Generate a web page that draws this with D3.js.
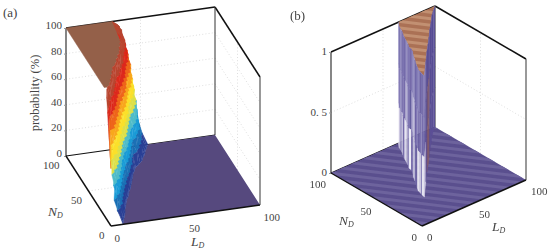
<!DOCTYPE html>
<html>
<head>
<meta charset="utf-8">
<script src="https://cdn.jsdelivr.net/npm/d3@7"></script>
<style>
  html, body { margin: 0; padding: 0; background: #fff; overflow: hidden; }
  text { font-family: "Liberation Serif", serif; fill: #444; }
</style>
</head>
<body>
<div id="chart"></div>
<script>
// ---- panel (a) values ----
const aTicksP = [0, 20, 40, 60, 80, 100];
const aTicksLN = [0, 50, 100];
const aGridP = [20, 40, 60, 80];
const aLevels = [100, 90, 80, 70, 60, 50, 40, 30, 20, 10, 0];
const aRowsN = [100, 97.5, 95, 92.5, 90, 87.5, 85, 82.5, 80, 77.5, 75, 72.5, 70, 67.5, 65, 62.5, 60, 57.5, 55, 52.5, 50, 47.5, 45, 42.5, 40, 37.5, 35, 32.5, 30, 27.5, 25, 22.5, 20, 17.5, 15, 12.5, 10, 7.5, 5, 2.5, 0];
// probability on the LD = 0 side of each row
const aEdgeP = [100, 100, 100, 100, 100, 100, 100, 100, 100, 100, 100, 100, 100, 100, 100, 100, 100, 100, 100, 100, 100, 100, 100, 100, 100, 100, 100, 100, 100, 100, 100, 100, 100, 100, 100, 98, 95, 85, 72, 60, 45];
// LD where each row crosses each level
const aCrossLD = [
  [31, 34.5, 38, 40, 42, 43, 45, 46.5, 48.5, 51, 55],
  [32, 35, 38, 39, 42, 43, 44, 47, 47.5, 50.5, 53.5],
  [33, 36.5, 37.5, 41, 41, 44, 43.5, 46, 47.5, 49, 52.5],
  [33.5, 35, 39, 39, 42, 41.5, 45, 44.5, 47, 47, 51],
  [33, 36.5, 37, 40.5, 40, 43, 42, 45, 44.5, 48, 50],
  [33.5, 34.5, 38, 38, 41, 40, 43.5, 42.5, 46, 45.5, 49],
  [32, 35.5, 35.5, 39, 38, 41, 40, 43.5, 42.5, 46, 47.5],
  [32, 33, 36.5, 36, 39, 38, 41, 40, 43, 42.5, 46],
  [30.5, 34, 34, 37, 35.5, 39, 37.5, 41, 40, 43.5, 45],
  [30.5, 31, 35, 33.5, 37, 35.5, 38.5, 38, 40.5, 41, 43],
  [28.5, 32, 31.5, 34.5, 33, 36, 35, 37.5, 36.5, 40, 41],
  [28.5, 29, 32.5, 31, 34, 32.5, 35, 34, 36.5, 36.5, 38.5],
  [27, 30, 29, 32, 30.5, 33.5, 32, 34.5, 33.5, 36, 37],
  [27, 27.5, 30.5, 29.5, 32, 30.5, 33, 32, 34.5, 34, 36],
  [25, 28, 27, 30, 28.5, 31.5, 30, 32.5, 31.5, 34, 34.5],
  [25.5, 26, 28.5, 27.5, 30, 28.5, 31, 30, 32.5, 32, 33.5],
  [23.5, 26.5, 25.5, 28.5, 27, 30, 28.5, 31, 30, 32.5, 32.5],
  [23.5, 24, 27, 25.5, 28, 26.5, 29, 28.5, 30.5, 30, 31.5],
  [21, 24, 23, 26.5, 25, 27.5, 26.5, 28.5, 27.5, 30, 30.5],
  [21, 21.5, 24.5, 23.5, 26, 24.5, 27, 26, 28.5, 28, 29.5],
  [18.5, 21.5, 21, 24, 22.5, 25.5, 24, 26.5, 25.5, 28, 28.5],
  [18.5, 19, 22, 20.5, 23.5, 22, 25, 24, 26, 25.5, 27.5],
  [16.5, 19.5, 18.5, 21.5, 20.5, 23, 22, 24, 23.5, 25.5, 26.5],
  [15.5, 16, 19, 17.5, 20.5, 19, 22, 20.5, 23, 22.5, 25],
  [13, 16, 15.5, 18.5, 17, 20, 18.5, 21, 20.5, 23, 24],
  [13, 13.5, 17, 15.5, 18.5, 16.5, 19.5, 18, 21, 20, 23],
  [11, 14, 13.5, 16.5, 15, 18, 16.5, 19, 18.5, 21, 22],
  [11, 11.5, 14.5, 13, 16, 14.5, 17.5, 16, 18.5, 18, 20.5],
  [9, 12, 11, 14.5, 13, 15.5, 14.5, 16.5, 16, 18.5, 19.5],
  [9, 9.5, 12.5, 11, 14, 12.5, 15.5, 14, 16.5, 16, 18.5],
  [7, 10, 9.5, 12.5, 11, 14, 12.5, 15, 14, 16.5, 17.5],
  [7, 7.5, 10.5, 9, 12, 10.5, 13.5, 12, 14.5, 14, 16.5],
  [5, 8, 7.5, 10, 9, 12, 10.5, 13, 12, 14.5, 15.5],
  [4.5, 5, 8, 6.5, 9.5, 8, 11, 10, 12.5, 12, 14.5],
  [2, 5, 5, 8, 6.5, 9.5, 8, 11, 10, 12.5, 14],
  [1, 2, 5, 3.5, 7, 5.5, 9, 7.5, 10.5, 10, 13],
  [0, 2.5, 2.5, 5.5, 4.5, 7.5, 6, 9, 8, 11, 12],
  [0, 0, 1.5, 1.5, 4, 3, 6.5, 5, 8.5, 8, 11],
  [0, 0, 0, 1, 1.5, 3.5, 3, 5.5, 5, 8, 10],
  [0, 0, 0, 0, 1, 0.5, 3, 2.5, 5, 5, 9],
  [0, 0, 0, 0, 0, 0.5, 0.5, 2.5, 2, 5, 8]
];

// ---- panel (b) values ----
const bTicksLN = [0, 50, 100];
const bTicksP = [0, 50, 100];
const bWallL = [65, 61.1, 59.6, 58.5, 56, 54, 52.7, 51.5, 49.4, 47.3, 46.9, 46.7, 45.4, 41.3, 38.3, 35.2, 33.1, 30.9, 30.5, 29.7, 29.1, 28.8, 28.5, 43.4, 53.4, 60.5, 67.6, 75.5, 82.8, 89.9, 94.9, 100];
const bWallN = [100, 95, 91.7, 89, 85, 81.4, 78.7, 76, 72, 68.5, 66.8, 65.1, 62.5, 56.6, 51.6, 46.8, 43, 39.3, 37.6, 35, 33.2, 31.5, 30, 45.4, 55.6, 62.5, 69.6, 77.7, 84.7, 91.8, 96, 100];
const bShadeTop = [.5, .4, .55, .3, .5, .3, .45, .55, .35, .5, .4, .3, .5, .55, .35, .45, .4, .5, .3, .4, .35, .45, .4, .1, .1, .05, .1, .05, .1, .05, .1, .1];
const bShadeMid = [.65, .45, .6, .3, .55, .25, .65, .7, .35, .5, .2, .55, .65, .75, .3, .5, .55, .25, .45, .6, .35, .5, .3, .05, -.3, -.5, -.3, .05, .1, .05, .1, .1];
const bShadeLow = [1, .8, .55, .9, .3, .75, .95, .8, .25, .95, 1, .3, .55, .9, .4, .2, .95, 1, .85, .5, .95, 1, .85, .1, -.4, -.6, -.2, .1, .1, .1, .1, .1];
const bWallBands = [100, 66, 33, 0];
const bMoire = [3, 9.7, 16.4, 23.1, 29.8, 36.5, 43.2, 49.9, 56.6, 63.3, 70, 76.7, 83.4, 90.1, 96.8, 103.5];

const svg = d3.select("#chart").append("svg").attr("width", 550).attr("height", 250);
const defs = svg.append("defs");
defs.append("filter").attr("id", "soft").append("feGaussianBlur").attr("stdDeviation", 0.45);

// oblique projection of the box onto the page, one scale per axis
function makeProjection(front, endL, endN, height) {
  const xL = d3.scaleLinear().domain([0, 100]).range([0, endL[0] - front[0]]);
  const yL = d3.scaleLinear().domain([0, 100]).range([0, endL[1] - front[1]]);
  const xN = d3.scaleLinear().domain([0, 100]).range([0, endN[0] - front[0]]);
  const yN = d3.scaleLinear().domain([0, 100]).range([0, endN[1] - front[1]]);
  const yP = d3.scaleLinear().domain([0, 100]).range([0, -height]);
  return (l, n, p) => [front[0] + xL(l) + xN(n), front[1] + yL(l) + yN(n) + yP(p)];
}

function drawBox(g, pr, gridP) {
  const seg = (a, b, w, c) => g.append("line")
    .attr("x1", a[0]).attr("y1", a[1]).attr("x2", b[0]).attr("y2", b[1])
    .attr("stroke", c).attr("stroke-width", w);
  const dotted = (a, b) => seg(a, b, 0.7, "#d0d0d0").attr("stroke-dasharray", "1 2.2");
  gridP.forEach(p => {
    dotted(pr(0, 100, p), pr(100, 100, p));
    dotted(pr(100, 100, p), pr(100, 0, p));
  });
  [50].forEach(v => {
    dotted(pr(v, 100, 0), pr(v, 100, 100));
    dotted(pr(100, v, 0), pr(100, v, 100));
    dotted(pr(0, v, 0), pr(100, v, 0));
    dotted(pr(v, 0, 0), pr(v, 100, 0));
  });
  seg(pr(0, 100, 100), pr(100, 100, 100), 1.5, "#111");
  seg(pr(100, 100, 100), pr(100, 0, 100), 1.5, "#111");
  seg(pr(0, 100, 0), pr(0, 100, 100), 1.1, "#222");
  seg(pr(100, 100, 0), pr(100, 100, 100), 1, "#333");
  seg(pr(100, 0, 0), pr(100, 0, 100), 1.2, "#555");
  seg(pr(0, 100, 0), pr(100, 100, 0), 1.1, "#111");
}

function drawFrontEdges(g, pr) {
  [[pr(0, 100, 0), pr(0, 0, 0)], [pr(0, 0, 0), pr(100, 0, 0)]].forEach(s => {
    g.append("line")
      .attr("x1", s[0][0]).attr("y1", s[0][1]).attr("x2", s[1][0]).attr("y2", s[1][1])
      .attr("stroke", "#111").attr("stroke-width", 1.4);
  });
}

function tickLabels(g, pr, ticksLN, dxL, dyL, dxN, dyN) {
  g.selectAll("text.tl").data(ticksLN).join("text").attr("class", "tl")
    .attr("x", d => pr(d, 0, 0)[0] + dxL).attr("y", d => pr(d, 0, 0)[1] + dyL)
    .attr("font-size", 11).text(d => d);
  g.selectAll("text.tn").data(ticksLN).join("text").attr("class", "tn")
    .attr("text-anchor", "end")
    .attr("x", d => pr(0, d, 0)[0] + dxN).attr("y", d => pr(0, d, 0)[1] + dyN)
    .attr("font-size", 11).text(d => d);
}

function symbol(g, x, y, letter) {
  const t = g.append("text").attr("x", x).attr("y", y).attr("font-style", "italic").attr("font-size", 13.5);
  t.append("tspan").text(letter);
  t.append("tspan").attr("font-size", 8).attr("dy", 2).text("D");
}

function pAxis(g, x, y0, height, ticks, fmt, shift) {
  const scale = d3.scaleLinear().domain([0, 100]).range([y0, y0 - height]);
  const axis = g.append("g").attr("transform", `translate(${x},0)`)
    .call(d3.axisLeft(scale).tickValues(ticks).tickSize(2).tickPadding(2).tickFormat(fmt));
  axis.select(".domain").remove();
  axis.selectAll("line").attr("stroke", "#999");
  axis.selectAll("text").attr("font-size", 11).attr("font-family", null).attr("y", shift);
}

// ---- panel (a) ----
const prA = makeProjection([111, 226], [260, 205], [66, 156], 128);
const gA = svg.append("g");
drawBox(gA, prA, aGridP);
pAxis(gA, 66, 156, 128, aTicksP, d => d, -3);

const jet = d3.scaleLinear()
  .domain([0, 5, 15, 25, 35, 45, 55, 65, 75, 85, 95])
  .range(["#3b3a86", "#2a3f95", "#1a6fb5", "#1a9bd6", "#4fbcc8", "#dde04a", "#fbe02c", "#f8a81f", "#ee651b", "#dd2a1c", "#b9452f"]);

const pathOf = pts => "M" + pts.map(p => p.join(",")).join("L") + "Z";
const aPoint = (r, k) => {
  const l = aCrossLD[r][k];
  return prA(l, aRowsN[r], l === 0 ? Math.min(aLevels[k], aEdgeP[r]) : aLevels[k]);
};

const soft = gA.append("g").attr("filter", "url(#soft)");

// floor right of the foot of the slope
const floorPts = aRowsN.map((n, r) => prA(aCrossLD[r][aLevels.length - 1], n, 0));
floorPts.push(prA(0, 0, 0), prA(100, 0, 0), prA(100, 100, 0));
soft.append("path").attr("d", pathOf(floorPts)).attr("fill", "#564a7e");

// plateau at 100%
const topRows = aRowsN.map((n, r) => r).filter(r => aEdgeP[r] === 100);
const platPts = topRows.map(r => aPoint(r, 0));
platPts.push(prA(0, aRowsN[topRows[topRows.length - 1]], 100), prA(0, 100, 100));
soft.append("path").attr("d", pathOf(platPts)).attr("fill", "#94604a").attr("stroke", "#94604a").attr("stroke-width", 0.5);

// falling slope, back row first
const aCells = [];
d3.range(aRowsN.length - 1).forEach(r => {
  d3.range(aLevels.length - 1).forEach(k => {
    aCells.push({ r, k, p: (aLevels[k] + aLevels[k + 1]) / 2 });
  });
});
soft.selectAll("path.cell").data(aCells).join("path").attr("class", "cell")
  .attr("d", d => pathOf([aPoint(d.r, d.k), aPoint(d.r, d.k + 1), aPoint(d.r + 1, d.k + 1), aPoint(d.r + 1, d.k)]))
  .attr("fill", d => jet(d.p))
  .attr("stroke", d => jet(d.p))
  .attr("stroke-width", 0.3);

drawFrontEdges(gA, prA);
tickLabels(gA, prA, aTicksLN, 3.5, 16, -6.5, 12.5);
symbol(gA, 48, 216, "N");
symbol(gA, 191, 246, "L");
gA.append("text").attr("transform", "translate(39,93) rotate(-90)").attr("text-anchor", "middle")
  .attr("font-size", 12.5).text("probability (%)");
gA.append("text").attr("x", 3).attr("y", 17).attr("font-size", 13).text("(a)");

// ---- panel (b) ----
const prB = makeProjection([422, 226], [526, 180], [331, 173], 121);
const gB = svg.append("g");
drawBox(gB, prB, [50]);
pAxis(gB, 331, 173, 121, bTicksP, d => d === 50 ? "0. 5" : d / 100, -1);

const clipFloor = defs.append("clipPath").attr("id", "bFloorClip");
clipFloor.append("path").attr("d", pathOf([prB(0, 0, 0), prB(100, 0, 0), prB(100, 100, 0), prB(0, 100, 0)]));

const softB = gB.append("g").attr("filter", "url(#soft)");
softB.append("path").attr("d", pathOf([prB(0, 0, 0), prB(100, 0, 0), prB(100, 100, 0), prB(0, 100, 0)])).attr("fill", "#5a4f8e");

// moire bands run across the mesh, L*0.603 + N*0.434 = c
const moireLine = (c, p) => [prB(c / 0.603, 0, p), prB(0, c / 0.434, p)];
softB.append("g").attr("clip-path", "url(#bFloorClip)")
  .selectAll("line").data(bMoire).join("line")
  .attr("x1", d => moireLine(d, 0)[0][0]).attr("y1", d => moireLine(d, 0)[0][1])
  .attr("x2", d => moireLine(d, 0)[1][0]).attr("y2", d => moireLine(d, 0)[1][1])
  .attr("stroke", "#6d639d").attr("stroke-width", 3);

// plateau at 1
const platB = bWallL.map((l, i) => prB(l, bWallN[i], 100));
const clipPlat = defs.append("clipPath").attr("id", "bPlatClip");
clipPlat.append("path").attr("d", pathOf(platB));
softB.append("path").attr("d", pathOf(platB)).attr("fill", "#ab7155");
softB.append("g").attr("clip-path", "url(#bPlatClip)")
  .selectAll("line").data(bMoire).join("line")
  .attr("x1", d => moireLine(d, 100)[0][0]).attr("y1", d => moireLine(d, 100)[0][1])
  .attr("x2", d => moireLine(d, 100)[1][0]).attr("y2", d => moireLine(d, 100)[1][1])
  .attr("stroke", "#c29072").attr("stroke-width", 3);

// the wall, column by column, three shaded bands each
const wallColor = d3.scaleLinear().domain([-1, 0, .5, 1]).range(["#b0704c", "#544890", "#7f77b3", "#f7f6fb"]);
const wallShades = [bShadeTop, bShadeMid, bShadeLow];
const wallCells = [];
d3.range(bWallL.length - 1).forEach(i => {
  wallShades.forEach((s, b) => wallCells.push({ i, b, v: s[i] }));
});
softB.selectAll("path.wall").data(wallCells).join("path").attr("class", "wall")
  .attr("d", d => pathOf([
    prB(bWallL[d.i], bWallN[d.i], bWallBands[d.b]),
    prB(bWallL[d.i + 1], bWallN[d.i + 1], bWallBands[d.b]),
    prB(bWallL[d.i + 1], bWallN[d.i + 1], bWallBands[d.b + 1]),
    prB(bWallL[d.i], bWallN[d.i], bWallBands[d.b + 1])
  ]))
  .attr("fill", d => wallColor(d.v))
  .attr("stroke", d => wallColor(d.v))
  .attr("stroke-width", 0.3);

drawFrontEdges(gB, prB);
tickLabels(gB, prB, bTicksLN, 5, 15, -5, 15);
symbol(gB, 339, 225, "N");
symbol(gB, 492, 231, "L");
gB.append("text").attr("x", 290).attr("y", 20).attr("font-size", 13).text("(b)");
</script>
</body>
</html>
